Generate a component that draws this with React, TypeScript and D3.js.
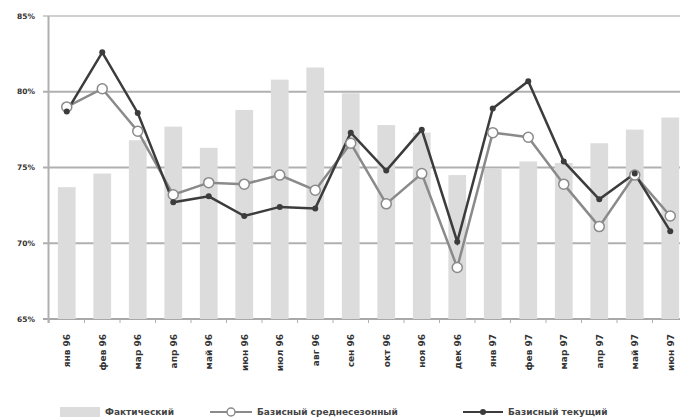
import React from "react";
import * as d3 from "d3";

const categories = ["янв 96","фев 96","мар 96","апр 96","май 96","июн 96","июл 96","авг 96","сен 96","окт 96","ноя 96","дек 96","янв 97","фев 97","мар 97","апр 97","май 97","июн 97"];
const actual = [73.7, 74.6, 76.8, 77.7, 76.3, 78.8, 80.8, 81.6, 79.9, 77.8, 77.3, 74.5, 74.9, 75.4, 75.3, 76.6, 77.5, 78.3];
const seasonal = [79.0, 80.2, 77.4, 73.2, 74.0, 73.9, 74.5, 73.5, 76.6, 72.6, 74.6, 68.4, 77.3, 77.0, 73.9, 71.1, 74.5, 71.8];
const current = [78.7, 82.6, 78.6, 72.7, 73.1, 71.8, 72.4, 72.3, 77.3, 74.8, 77.5, 70.1, 78.9, 80.7, 75.4, 72.9, 74.6, 70.8];
const yTicks = [65, 70, 75, 80, 85];
const legendLabels = ["Фактический", "Базисный среднесезонный", "Базисный текущий"];

export default function App() {
  const W = 680, H = 419;
  const x = d3.scaleBand<string>().domain(categories).range([49, 688]).padding(0);
  const y = d3.scaleLinear().domain([65, 85]).range([319, 16]);
  const step = x.step();
  const barW = step * 0.5;
  const cx = (c: string) => (x(c) as number) + step / 2;
  const line = d3.line<number>().x((_, i) => cx(categories[i])).y((d) => y(d));
  const font = "'DejaVu Sans', sans-serif";

  return (
    <div style={{ position: "absolute", left: 0, top: 0 }}>
      <svg width={W} height={H} style={{ display: "block", background: "#fff" }}>
        {yTicks.map((t) => (
          <line key={t} x1={43} x2={W} y1={y(t)} y2={y(t)}
            stroke={t === 85 ? "#d0d0d0" : t === 65 ? "#a8a8a8" : "#b0b0b0"} strokeWidth={2} />
        ))}
        {actual.map((v, i) => (
          <rect key={i} x={cx(categories[i]) - barW / 2} y={y(v)} width={barW} height={y(65) - y(v)} fill="#dcdcdc" />
        ))}
        <line x1={48.5} x2={48.5} y1={y(85)} y2={y(65) + 4} stroke="#b0b0b0" strokeWidth={2} />
        {yTicks.map((t) => (
          <text key={t} x={35} y={y(t)} dy="0.35em" textAnchor="end" fontFamily={font} fontSize={7.5} fontWeight="bold" fill="#333">{t}%</text>
        ))}
        {categories.map((c) => (
          <line key={c} x1={(x(c) as number)} x2={(x(c) as number)} y1={y(65)} y2={y(65) + 4} stroke="#b0b0b0" strokeWidth={1} />
        ))}
        {categories.map((c) => (
          <text key={c} transform={`translate(${cx(c) + 3.5},${334}) rotate(-90)`} textAnchor="end" fontFamily={font} fontSize={9} fontWeight="bold" fill="#333">{c}</text>
        ))}
        <path d={line(seasonal) || ""} fill="none" stroke="#8a8a8a" strokeWidth={2.5} />
        <path d={line(current) || ""} fill="none" stroke="#3c3c3c" strokeWidth={2.5} />
        {seasonal.map((v, i) => (
          <circle key={i} cx={cx(categories[i])} cy={y(v)} r={5} fill="#fff" stroke="#8a8a8a" strokeWidth={1.5} />
        ))}
        {current.map((v, i) => (
          <circle key={i} cx={cx(categories[i])} cy={y(v)} r={3} fill="#3c3c3c" />
        ))}
        <rect x={60} y={407} width={40} height={10} fill="#dcdcdc" />
        <text x={105} y={412} dy="0.35em" fontFamily={font} fontSize={9} fontWeight="bold" fill="#444">{legendLabels[0]}</text>
        <line x1={210} x2={252} y1={412} y2={412} stroke="#8a8a8a" strokeWidth={2} />
        <circle cx={231} cy={412} r={4} fill="#fff" stroke="#8a8a8a" strokeWidth={1.5} />
        <text x={257} y={412} dy="0.35em" fontFamily={font} fontSize={9} fontWeight="bold" fill="#444">{legendLabels[1]}</text>
        <line x1={463} x2={503} y1={412} y2={412} stroke="#3c3c3c" strokeWidth={2} />
        <circle cx={483} cy={412} r={3} fill="#3c3c3c" />
        <text x={508} y={412} dy="0.35em" fontFamily={font} fontSize={9} fontWeight="bold" fill="#444">{legendLabels[2]}</text>
      </svg>
    </div>
  );
}
